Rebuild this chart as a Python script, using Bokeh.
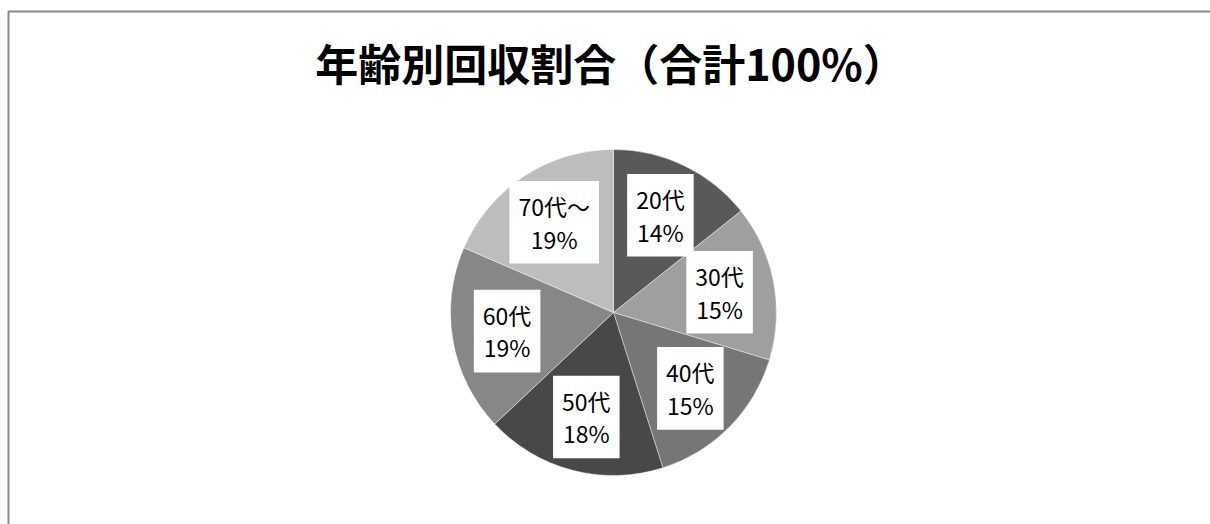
import math
from bokeh.plotting import figure
from bokeh.models import Range1d, ColumnDataSource, Label
from bokeh.core.properties import value
from bokeh.embed import file_html
from bokeh.resources import INLINE

# ---- data ----
categories = ["20代", "30代", "40代", "50代", "60代", "70代～"]
shares = [14.3, 15.4, 15.4, 17.9, 18.5, 18.5]
pct_labels = ["14%", "15%", "15%", "18%", "19%", "19%"]
colors = ["#595959", "#9f9f9f", "#767676", "#484848", "#878787", "#bdbdbd"]
title_text = "年齢別回収割合（合計100%）"

W, H = 1210, 524
CX, CY, R = 613, H - 312, 163
LABEL_R = 108

total = sum(shares)
starts, ends, lx, ly, texts = [], [], [], [], []
cum = 0.0
for cat, s, pl in zip(categories, shares, pct_labels):
    f0 = cum / total
    f1 = (cum + s) / total
    cum += s
    # clockwise from 12 o'clock
    starts.append(math.pi / 2 - 2 * math.pi * f1)
    ends.append(math.pi / 2 - 2 * math.pi * f0)
    mid = (f0 + f1) / 2
    th = math.pi / 2 - 2 * math.pi * mid
    lx.append(CX + LABEL_R * math.cos(th))
    ly.append(CY + LABEL_R * math.sin(th))
    texts.append(cat + "\n" + pl)

src = ColumnDataSource(dict(start=starts, end=ends, color=colors,
                            lx=lx, ly=ly, text=texts))

p = figure(width=W, height=H, x_range=Range1d(0, W), y_range=Range1d(0, H),
           output_backend="svg", toolbar_location=None, min_border=0)
p.axis.visible = False
p.grid.visible = False
p.outline_line_color = None
p.background_fill_color = "white"
p.border_fill_color = "white"

# chart border (extends beyond the window on right and bottom)
p.line(x=[8, 8, W + 20], y=[-20, H - 11, H - 11], line_color="#898989", line_width=2)

p.wedge(x=CX, y=CY, radius=R, start_angle="start", end_angle="end",
        fill_color="color", line_color="white", line_alpha=0.55, line_width=0.8,
        source=src)

p.text(x="lx", y="ly", text="text", source=src,
       text_font=value("Noto Sans CJK JP"), text_font_size="23px",
       text_color="black", text_align="center", text_baseline="middle",
       text_line_height=0.96,
       background_fill_color="white", padding=(9, 8))

p.add_layout(Label(x=610, y=H - 61, text=title_text,
                   text_font="Noto Sans CJK JP", text_font_size="43px",
                   text_font_style="bold", text_color="black",
                   text_align="center", text_baseline="middle"))

open("out.html", "w").write(file_html(p, INLINE))
